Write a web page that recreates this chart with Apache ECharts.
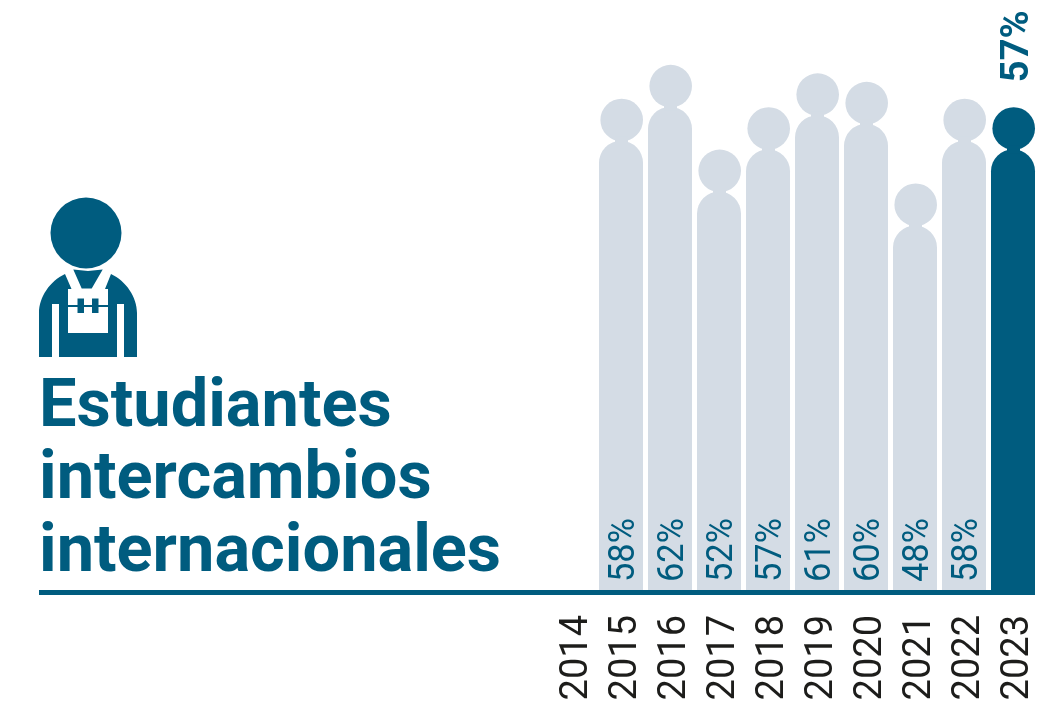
<!DOCTYPE html>
<html>
<head>
<meta charset="utf-8">
<style>
  html, body { margin: 0; padding: 0; background: #fff; }
  #chart { width: 1059px; height: 707px; }
</style>
<script src="https://cdn.jsdelivr.net/npm/echarts@6/dist/echarts.min.js"></script>
</head>
<body>
<div id="chart"></div>
<script>
var years = ['2014', '2015', '2016', '2017', '2018', '2019', '2020', '2021', '2022', '2023'];
var values = [null, 58, 62, 52, 57, 61, 60, 48, 58, 57];
var highlightYear = '2023';
var titleLines = ['Estudiantes', 'intercambios', 'internacionales'];

var TEAL = '#005c7f';
var GREY = '#d4dce5';
var FONT = 'Roboto';

var myChart = echarts.init(document.getElementById('chart'));

// each bar is a little person: the value reaches the top of the head
function renderPerson(params, api) {
    var v = api.value(1);
    if (v == null || isNaN(v)) return;
    var top = api.coord([api.value(0), v]);
    var base = api.coord([api.value(0), 0]);
    var w = api.size([1, 0])[0] - 5;
    var r = w / 2;
    var x = top[0];
    var isLast = years[api.value(0)] === highlightYear;
    var color = isLast ? TEAL : GREY;
    var headR = r - 0.7;
    var bodyTop = top[1] + headR * 2 - 0.5;
    var children = [
        { type: 'circle', shape: { cx: x + 0.7, cy: top[1] + headR, r: headR }, style: { fill: color } },
        {
            type: 'rect',
            shape: { x: x - r, y: bodyTop, width: w, height: base[1] - bodyTop, r: [r, r, 0, 0] },
            style: { fill: color }
        },
        // short neck joining head and shoulders
        { type: 'rect', shape: { x: x - 6, y: bodyTop - 4, width: 13, height: 8 }, style: { fill: color } }
    ];
    if (isLast) {
        children.push({
            type: 'text', x: x + 5, y: top[1] - 25, rotation: Math.PI / 2,
            style: { text: v + '%', font: 'bold 38px ' + FONT, fill: TEAL, align: 'left', verticalAlign: 'middle' }
        });
    } else {
        children.push({
            type: 'text', x: x + 4, y: base[1] - 8, rotation: Math.PI / 2, scaleX: 0.93,
            style: { text: v + '%', font: '37px ' + FONT, fill: TEAL, align: 'left', verticalAlign: 'middle' }
        });
    }
    return { type: 'group', children: children };
}

// the worker icon beside the title
function renderIcon() {
    return {
        type: 'group',
        children: [
            { type: 'circle', shape: { cx: 86, cy: 233, r: 35.5 }, style: { fill: TEAL } },
            {
                type: 'path',
                shape: {
                    pathData: 'M65 274 C50 281 39 297 39 313 L39 357 L52 357 L52 304 L59 304 L59 357 L117 357 L117 304 L124 304 L124 357 L137 357 L137 313 C137 297 126 281 111 274 Z',
                    x: 39, y: 274, width: 98, height: 83
                },
                style: { fill: TEAL }
            },
            {
                type: 'polygon',
                shape: { points: [[65, 274], [73, 269], [112, 269], [111, 274], [105, 289], [108, 289], [108, 333], [68, 333], [68, 289], [71.5, 289]] },
                style: { fill: '#fff' }
            },
            {
                type: 'polygon',
                shape: { points: [[73.3, 269.5], [88, 271], [102.7, 269.5], [91.7, 288.5], [81.7, 288.5]] },
                style: { fill: TEAL }
            },
            { type: 'rect', shape: { x: 68, y: 305, width: 40, height: 2 }, style: { fill: TEAL } },
            { type: 'rect', shape: { x: 77.5, y: 298.5, width: 6.5, height: 14.5 }, style: { fill: TEAL } },
            { type: 'rect', shape: { x: 92, y: 298.5, width: 6.5, height: 14.5 }, style: { fill: TEAL } }
        ]
    };
}

option = {
    animation: false,
    title: {
        text: titleLines.join('\n'),
        left: 39,
        top: 373,
        padding: 0,
        textStyle: { fontFamily: FONT, fontWeight: 'bold', fontSize: 66.7, lineHeight: 72.5, color: TEAL }
    },
    grid: { left: 547.5, right: 21.5, top: 39.4, bottom: 117 },
    xAxis: {
        type: 'category',
        data: years,
        axisLine: { show: false },
        axisTick: { show: false },
        axisLabel: {
            rotate: 90, margin: 25, fontFamily: FONT, fontSize: 38, color: '#1d1d1b', interval: 0,
            verticalAlign: 'top', lineHeight: 10
        }
    },
    yAxis: { type: 'value', min: 0, max: 65, show: false },
    series: [{
        type: 'custom',
        renderItem: renderPerson,
        clip: false,
        encode: { x: 0, y: 1 },
        data: values.map(function (v, i) { return [i, v]; })
    }, {
        type: 'custom',
        coordinateSystem: 'none',
        renderItem: renderIcon,
        silent: true,
        data: [[0]]
    }],
    graphic: [
        // baseline runs under the title too
        { type: 'rect', shape: { x: 39, y: 590, width: 996, height: 5 }, style: { fill: TEAL } }
    ]
};

myChart.setOption(option);
</script>
</body>
</html>
